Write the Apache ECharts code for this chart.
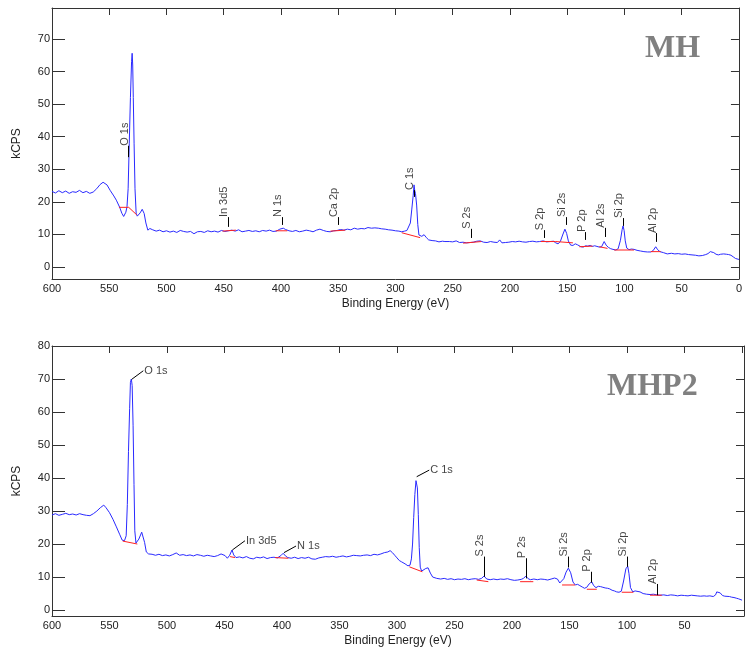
<!DOCTYPE html>
<html>
<head>
<meta charset="utf-8">
<script src="https://cdn.jsdelivr.net/npm/echarts@6/dist/echarts.min.js"></script>
<style>
html, body { margin: 0; padding: 0; background: #fff; }
#main { width: 745px; height: 651px; }
</style>
</head>
<body>
<div id="main"></div>
<script>
// ---------------- data: XPS survey spectra [Binding Energy (eV), kCPS] ----------------
var mhSpectrum = [
	[600,23.2],[597,22.7],[594,23.4],[591,22.8],[588,23.3],[585,22.6],[582,23.1],[579,22.9],[576,23.5],[573,22.8],
	[570,23.2],[567,22.6],[564,23.0],[561,24.0],[558,25.3],[555.4,26.0],[552,25.2],[549,23.4],[546,21.8],[543.8,20.5],
	[541,18.4],[539,16.5],[537.4,15.5],[535.5,16.8],[534.5,18.5],[533.5,24],[532.5,38],[531.5,52],[530.5,63],[530,65.6],
	[529.5,62],[529,52],[528.3,38],[527.5,24],[526.5,16.5],[525.5,15.6],[524.5,15.2],[523,16.6],[521.2,17.7],[519.5,16.4],
	[518,13.5],[516.3,11.3],[514.5,11.8],[512,11.4],[509,11.0],[506,11.3],[503,10.8],[500,11.1],[497,10.7],[494,11.0],
	[491,10.6],[488,11.2],[485,10.9],[482,10.7],[479,10.9],[476,10.2],[473,10.8],[470,10.9],[467,10.6],[464,11.1],
	[461,10.8],[458,11.0],[455,10.7],[452,11.2],[449,10.9],[446,11.1],[443,11.3],[440,11.0],[437,11.4],[434,10.8],
	[431,11.0],[428,11.2],[425,10.9],[422,11.1],[419,10.8],[416,11.2],[413,11.0],[410,11.3],[407,10.9],[404,11.0],
	[401,11.6],[398,11.9],[396,11.5],[393,11.1],[390,10.9],[387,11.2],[384,10.8],[381,11.0],[378,11.3],[375,11.1],
	[372,10.8],[369,11.3],[366,11.6],[363,11.2],[360,10.9],[357,10.8],[354,11.1],[351,11.2],[348,11.5],[345,11.3],
	[342,11.6],[339,11.4],[336,11.9],[333,11.6],[330,11.8],[327,11.7],[324,12.1],[321,11.9],[318,12.0],[315,11.9],
	[312,11.7],[309,11.6],[306,11.4],[303,11.3],[300,11.1],[297,11.0],[294.5,10.8],[292,11.0],[290,11.2],[288.7,11.4],
	[287,13.5],[285.8,17.5],[284.5,22],[283.8,25.2],[283.2,23.5],[282.5,22.5],[281.5,19],[280.5,13],[279.5,9.8],[277,9.4],
	[275,9.9],[273,9.0],[271,8.3],[268,8.1],[265,8.0],[262,7.7],[259,7.9],[256.8,7.8],[253,7.8],[250,7.7],
	[247,8.0],[244,7.5],[241,7.6],[238,7.4],[235,7.5],[232,7.6],[229,7.9],[226,8.0],[223,7.6],[220,7.5],
	[217,7.8],[214,7.6],[211,7.5],[209,8.3],[207,7.4],[204,7.5],[201,7.6],[198,7.8],[195,7.7],[192,7.9],
	[189,7.7],[186,7.6],[183,7.8],[180,7.9],[177,7.7],[174,7.8],[171,8.0],[168,7.7],[165,7.8],[162,7.9],
	[160,7.4],[158,7.1],[156,7.8],[154,9.8],[152,11.6],[150.5,10.3],[149,8.0],[147,6.7],[145,6.6],[143,7.1],
	[141,6.8],[138,6.2],[136,6.1],[134,6.5],[132,6.4],[130,6.6],[128,6.3],[126,6.5],[124,6.3],[122,6.1],
	[120,6.2],[117.7,7.8],[116,6.7],[114,6.0],[112,5.6],[110,5.4],[107.5,5.2],[105.5,5.6],[103.5,8.2],[102,11.5],
	[101.2,12.6],[100.3,11.2],[99.3,8.0],[98,5.8],[96,5.3],[94,5.5],[91.6,5.4],[89,5.1],[86,4.9],[83,4.7],
	[80,4.6],[77,4.6],[75,5.0],[72.7,6.2],[71,5.3],[69,4.7],[66,4.4],[62.6,4.0],[59,4.2],[56,4.0],
	[53,4.1],[50,3.9],[47,4.0],[44,3.8],[41,3.7],[38,3.6],[35,3.4],[32,3.5],[29,3.8],[27,4.1],
	[25,4.7],[23.5,5.0],[22,4.4],[20,3.9],[18,3.7],[16,3.9],[13.3,4.0],[11,3.9],[9,3.8],[7,3.6],
	[5,3.1],[3,2.6],[1.7,2.4],[0,2.3]
];
var mhp2Spectrum = [
	[600,28.8],[597,29.2],[594,28.7],[591,29.0],[588,29.3],[585,28.9],[582,29.1],[579,28.8],[576,29.2],[573,28.9],
	[570,28.7],[567,28.6],[564,29.2],[561,30.0],[558,31.0],[555,31.8],[553,31.0],[550,29.5],[547,27.5],[544,25.2],
	[541,22.8],[539,21.2],[537,21.0],[535.5,22.5],[534.5,32],[533.5,48],[532.5,61],[531.8,69],[531,70],[530.3,68],
	[529.5,56],[528.7,38],[528,24],[527,20.3],[526,19.9],[524.5,21.5],[522,23.6],[521,23.2],[519.5,20.5],[518,17.6],
	[516,17.0],[513,16.9],[510,16.6],[507,16.9],[504,16.5],[501,16.7],[498,16.4],[495,16.8],[492,17.3],[489,16.6],
	[486,16.8],[483,16.5],[480,16.7],[477,16.4],[474,16.8],[471,16.6],[468,16.3],[465,16.6],[462,16.4],[459,16.2],
	[456,16.5],[453,17.0],[451.6,17.5],[449.5,16.5],[447.5,15.7],[445.5,16.6],[443.5,18.2],[442,16.7],[440,15.9],[437,16.1],
	[434,15.8],[431,16.2],[428,15.7],[425,15.5],[422,16.0],[419,15.8],[416,16.1],[413,15.6],[410,15.9],[407,16.0],
	[404,15.8],[401,16.5],[399,17.2],[397,16.4],[395,15.9],[392,15.7],[389,16.0],[386,15.6],[383,15.9],[380,15.7],
	[377,16.0],[374,15.5],[371,15.4],[368,15.8],[365,16.0],[362,16.2],[359,16.1],[356,16.3],[353,16.0],[350,16.2],
	[347,16.4],[344,16.1],[341,16.3],[338,16.6],[335,16.5],[332,16.4],[329,16.6],[326,16.7],[323,16.5],[320,16.9],
	[317,16.7],[314,17.0],[311,17.4],[308,17.6],[306,18.0],[304,17.4],[302,16.6],[300,15.8],[298,15.0],[296,14.6],
	[293,14.0],[290.5,13.4],[288.7,13.6],[287.5,15.5],[286.5,20],[285.5,28],[284.5,35],[283.5,39.2],[283,39.7],[282.3,37],
	[281.5,29],[280.7,19],[279.8,13],[278.6,11.8],[277,11.9],[275,12.6],[273,12.8],[271,11.2],[269,10.0],[265.5,9.6],
	[262,9.4],[259,9.6],[256,9.3],[253,9.5],[250,9.2],[247,9.4],[244,9.3],[241,9.5],[238,9.2],[235,9.4],
	[232,9.5],[229,9.3],[226.5,9.6],[224.3,10.3],[222,9.4],[219,9.2],[216,9.4],[213,9.2],[210,9.4],[207,9.3],
	[204,9.5],[201,9.2],[198,9.0],[195,9.1],[192,9.3],[190,9.6],[188,10.3],[186,9.5],[184,9.2],[181,9.4],
	[178,9.2],[175,9.4],[172,9.3],[169,9.1],[166,9.4],[163,9.7],[160.5,9.4],[158.5,8.2],[157,7.6],[155,9.5],
	[153,11.5],[151,12.7],[149,11.3],[147,8.5],[145,7.6],[143,7.8],[141,7.4],[139,7.0],[137,6.6],[135,6.9],
	[133,7.9],[130.7,8.6],[129,7.4],[127,6.8],[125,7.2],[123,7.1],[121,6.9],[119,6.7],[117,6.6],[115,6.4],
	[113,6.0],[111,5.8],[109,5.5],[107,5.4],[105,5.7],[103,8.8],[101,12.5],[99.4,13.3],[98.3,11.0],[97,6.8],
	[95,5.5],[93,5.8],[91.5,6.1],[88.7,5.5],[86,5.0],[83,4.8],[80,4.7],[77,4.8],[74,4.6],[71.3,4.5],
	[68,4.6],[65,4.4],[62,4.6],[59,4.5],[56,4.3],[53,4.5],[50,4.4],[47,4.3],[44,4.5],[42.3,4.5],
	[39,4.3],[36,4.2],[33,4.3],[30.7,4.2],[28,4.3],[25,4.1],[23,4.6],[22,5.5],[20.6,6.1],[19,5.2],
	[17,4.4],[15,4.2],[13.3,4.0],[11,4.1],[9,3.9],[7,3.8],[5,3.6],[3,3.4],[1.7,3.3],[0,3.0]
];

// red background (baseline) segments under the identified peaks
var mhBaselines = [
	[[541.5,18.3],[533,18.3],[526,16.0]],
	[[451,11.0],[439.4,11.3]],
	[[404.6,11.1],[394.5,11.1]],
	[[356.8,11.0],[343.8,11.3]],
	[[294.5,10.5],[278.5,9.0]],
	[[240.9,7.3],[225,7.8]],
	[[173,7.8],[160,7.8]],
	[[160,7.8],[145,7.4]],
	[[139.4,6.2],[127.8,6.4]],
	[[122,6.2],[114.8,5.7]],
	[[109,5.2],[91.6,5.2]],
	[[77.1,4.7],[68.4,4.7]]
];
var mhp2Baselines = [
	[[538.5,20.9],[525.8,20.0]],
	[[445.2,16.2],[440.9,15.9]],
	[[406,15.9],[394.5,15.7]],
	[[289.3,13.1],[278,11.6]],
	[[230.7,9.1],[220.6,8.6]],
	[[193,8.6],[181.5,8.6]],
	[[156.5,7.6],[145.2,7.6]],
	[[135,6.3],[126.3,6.3]],
	[[104.6,5.4],[94.5,5.4]],
	[[80,4.5],[69.8,4.5]]
];

// peak labels: [name, BE, leader bottom, leader top]  (vertical labels)
var mhPeaks = [
	['O 1s', 533, 33.7, 37.2],
	['In 3d5', 446, 12.3, 15.3],
	['N 1s', 399, 12.9, 15.3],
	['Ca 2p', 350, 12.9, 15.3],
	['C 1s', 283.5, 21.5, 23.6],
	['S 2s', 234, 8.9, 11.7],
	['S 2p', 170, 8.9, 11.3],
	['Si 2s', 151, 12.9, 15.3],
	['P 2p', 134, 8.3, 10.7],
	['Al 2s', 117, 9.2, 12.0],
	['Si 2p', 101, 12.6, 15.0],
	['Al 2p', 72, 7.7, 10.4]
];
var mhp2Peaks = [
	['S 2s', 224.1, 10.1, 16.2],
	['P 2s', 187.6, 9.6, 15.7],
	['Si 2s', 151.3, 12.9, 16.2],
	['P 2p', 131, 8.3, 11.6],
	['Si 2p', 99.7, 13.1, 16.2],
	['Al 2p', 73.6, 4.5, 7.9]
];
// slanted labels: [name, BE start, value start, BE end, value end]
var mhp2Callouts = [
	['O 1s', 530.7, 69.9, 520.6, 72.5],
	['In 3d5', 443.2, 18.2, 432.2, 21.0],
	['N 1s', 398.3, 17.4, 387.8, 19.4],
	['C 1s', 282.9, 40.4, 272.0, 42.4]
];

var xTicks = [0, 50, 100, 150, 200, 250, 300, 350, 400, 450, 500, 550, 600];
var xTicksBottom = [50, 100, 150, 200, 250, 300, 350, 400, 450, 500, 550, 600];
var yTicksMH = [0, 10, 20, 30, 40, 50, 60, 70];
var yTicksMHP2 = [0, 10, 20, 30, 40, 50, 60, 70, 80];

// ---------------- chart ----------------
var dom = document.getElementById('main');
var myChart = echarts.init(dom, null, { renderer: 'canvas' });

var FONT = 'Liberation Sans';
var AXIS_COLOR = '#333';

function bottomX(grid, min, labels) {
	return {
		type: 'value', gridIndex: grid, position: 'bottom', inverse: true, min: min, max: 600,
		name: 'Binding Energy (eV)', nameLocation: 'middle', nameGap: 19,
		nameTextStyle: { fontFamily: FONT, fontSize: 12, color: '#222' },
		axisLine: { show: true, onZero: false, lineStyle: { color: AXIS_COLOR, width: 1 } },
		axisTick: { show: false },
		splitLine: { show: false },
		axisLabel: { customValues: labels, margin: 4, fontFamily: FONT, fontSize: 11, color: '#222' }
	};
}
function topX(grid, min) {
	return {
		type: 'value', gridIndex: grid, position: 'top', inverse: true, min: min, max: 600,
		axisLine: { show: true, onZero: false, lineStyle: { color: AXIS_COLOR, width: 1 } },
		axisTick: { show: true, inside: true, length: 7, customValues: xTicks, lineStyle: { color: AXIS_COLOR } },
		axisLabel: { show: false },
		splitLine: { show: false }
	};
}
function leftY(grid, min, max, ticks) {
	return {
		type: 'value', gridIndex: grid, position: 'left', min: min, max: max,
		name: 'kCPS', nameLocation: 'middle', nameGap: 29,
		nameTextStyle: { fontFamily: FONT, fontSize: 12, color: '#222' },
		axisLine: { show: true, onZero: false, lineStyle: { color: AXIS_COLOR, width: 1 } },
		axisTick: { show: true, inside: true, length: 13, customValues: ticks, lineStyle: { color: AXIS_COLOR } },
		axisLabel: { customValues: ticks, margin: 2, fontFamily: FONT, fontSize: 11, color: '#222' },
		splitLine: { show: false }
	};
}
function rightY(grid, min, max, ticks) {
	return {
		type: 'value', gridIndex: grid, position: 'right', min: min, max: max,
		axisLine: { show: true, onZero: false, lineStyle: { color: AXIS_COLOR, width: 1 } },
		axisTick: { show: true, inside: true, length: 8, customValues: ticks, lineStyle: { color: AXIS_COLOR } },
		axisLabel: { show: false },
		splitLine: { show: false }
	};
}

function spectrum(axis, data) {
	return {
		type: 'line', xAxisIndex: axis, yAxisIndex: axis, data: data,
		showSymbol: false, silent: true, animation: false, z: 3,
		lineStyle: { color: '#2a2aff', width: 1 }
	};
}
function baselines(axis, segs) {
	return {
		type: 'lines', coordinateSystem: 'cartesian2d', xAxisIndex: axis, yAxisIndex: axis,
		polyline: true, silent: true, animation: false, z: 4,
		lineStyle: { color: '#ff2020', width: 1, opacity: 1 },
		data: segs.map(function(s) { return { coords: s }; })
	};
}
function leaders(axis, segs) {
	return {
		type: 'lines', coordinateSystem: 'cartesian2d', xAxisIndex: axis, yAxisIndex: axis,
		polyline: false, silent: true, animation: false, z: 5,
		lineStyle: { color: '#000', width: 1, opacity: 1 },
		data: segs.map(function(s) { return { coords: s }; })
	};
}
function vLabels(axis, peaks) {
	return {
		type: 'scatter', xAxisIndex: axis, yAxisIndex: axis, symbolSize: 1, silent: true, animation: false, z: 6,
		itemStyle: { color: 'transparent' },
		data: peaks.map(function(p) { return [p[1], p[3], p[0]]; }),
		label: {
			show: true, position: 'inside', rotate: 90, align: 'left', verticalAlign: 'middle',
			offset: [0, -4], fontFamily: FONT, fontSize: 11, color: '#111',
			formatter: function(params) { return params.data[2]; }
		}
	};
}
function hLabels(axis, callouts) {
	return {
		type: 'scatter', xAxisIndex: axis, yAxisIndex: axis, symbolSize: 1, silent: true, animation: false, z: 6,
		itemStyle: { color: 'transparent' },
		data: callouts.map(function(c) { return [c[3], c[4], c[0]]; }),
		label: {
			show: true, position: 'inside', align: 'left', verticalAlign: 'middle',
			offset: [1, 0], fontFamily: FONT, fontSize: 11, color: '#111',
			formatter: function(params) { return params.data[2]; }
		}
	};
}

var mhLeaders = mhPeaks.map(function(p) { return [[p[1], p[2]], [p[1], p[3]]]; });
var mhp2Leaders = mhp2Peaks.map(function(p) { return [[p[1], p[2]], [p[1], p[3]]]; })
	.concat(mhp2Callouts.map(function(c) { return [[c[1], c[2]], [c[3], c[4]]]; }));

option = {
	backgroundColor: '#fff',
	animation: false,
	grid: [
		{ left: 52, top: 8, right: 3, height: 271 },
		{ left: 52, top: 346, right: 1, height: 270 }
	],
	xAxis: [
		bottomX(0, 0, xTicks),
		bottomX(1, -1.7, xTicksBottom),
		topX(0, 0),
		topX(1, -1.7)
	],
	yAxis: [
		leftY(0, -3.7, 79.5, yTicksMH),
		leftY(1, -1.8, 80, yTicksMHP2),
		rightY(0, -3.7, 79.5, yTicksMH),
		rightY(1, -1.8, 80, yTicksMHP2)
	],
	series: [
		spectrum(0, mhSpectrum),
		baselines(0, mhBaselines),
		leaders(0, mhLeaders),
		vLabels(0, mhPeaks),
		spectrum(1, mhp2Spectrum),
		baselines(1, mhp2Baselines),
		leaders(1, mhp2Leaders),
		vLabels(1, mhp2Peaks),
		hLabels(1, mhp2Callouts)
	],
	graphic: [
		{ type: 'text', left: 645, top: 33, silent: true,
		  style: { text: 'MH', font: 'bold 32px "Liberation Serif"', fill: '#808080' } },
		{ type: 'text', left: 607, top: 371, silent: true,
		  style: { text: 'MHP2', font: 'bold 32px "Liberation Serif"', fill: '#808080' } }
	]
};
if (option && typeof option === 'object') {
	myChart.setOption(option, true);
}
</script>
</body>
</html>
